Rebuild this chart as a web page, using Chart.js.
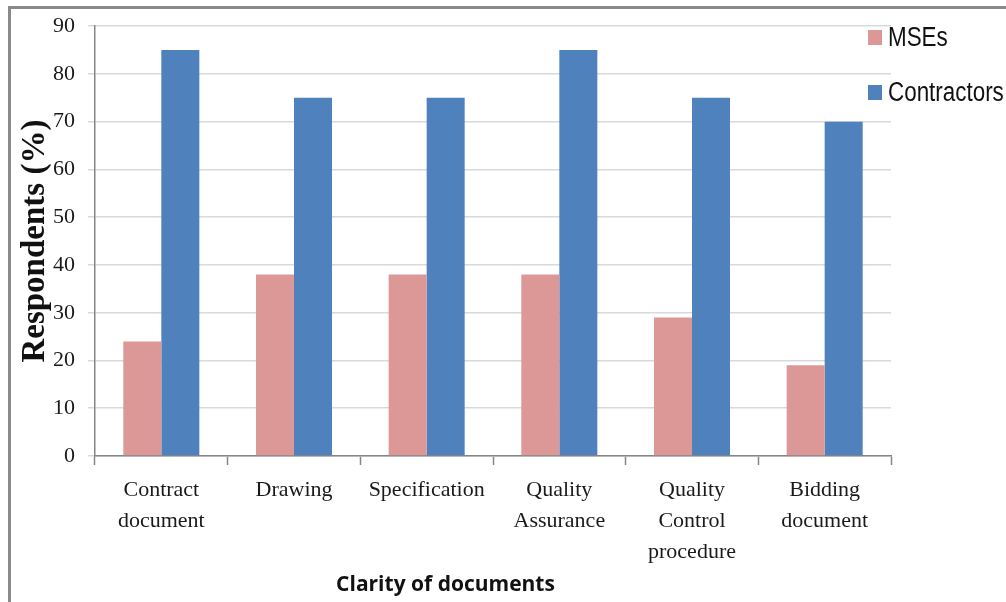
<!DOCTYPE html>
<html lang="en">
<head>
    <meta charset="UTF-8">
    <title>Clarity of documents</title>
    <script src="https://cdn.jsdelivr.net/npm/chart.js"></script>
    <style>
        html, body {
            margin: 0;
            padding: 0;
            background: #fff;
        }
        .wrap {
            position: relative;
            width: 1006px;
            height: 602px;
            overflow: hidden;
        }
        .frame {
            position: absolute;
            left: 8px;
            top: 6px;
            right: -10px;
            bottom: -10px;
            border-top: 3px solid #8a8a8a;
            border-left: 3px solid #8a8a8a;
        }
        canvas {
            position: absolute;
            left: 0;
            top: 0;
        }
        .legend {
            position: absolute;
            left: 868px;
            top: 21px;
            font-family: 'Liberation Sans', sans-serif;
            font-size: 27px;
            color: #111;
        }
        .legend-item {
            display: flex;
            align-items: center;
            height: 33px;
            margin-bottom: 22px;
        }
        .legend-item .box {
            width: 14px;
            height: 15px;
            margin-right: 6px;
        }
        .legend-item .txt {
            display: inline-block;
            transform: scaleX(0.83);
            transform-origin: left center;
        }
    </style>
</head>
<body>
<div class="wrap">
    <div class="frame"></div>
    <canvas id="chart" width="1006" height="602"></canvas>
    <div class="legend" id="legend"></div>
</div>

<script>
    const categories = [
        ['Contract', 'document'],
        ['Drawing'],
        ['Specification'],
        ['Quality', 'Assurance'],
        ['Quality', 'Control', 'procedure'],
        ['Bidding', 'document']
    ];
    const mses = [24, 38, 38, 38, 29, 19];
    const contractors = [85, 75, 75, 85, 75, 70];
    const yTicks = [0, 10, 20, 30, 40, 50, 60, 70, 80, 90];

    const serif = "'Liberation Serif', 'Times New Roman', serif";
    const sans = "'Open Sans', 'Liberation Sans', sans-serif";
    const gridColor = '#d9d9d9';
    const axisColor = '#868686';

    const chart = new Chart(document.getElementById('chart'), {
        type: 'bar',
        data: {
            labels: categories,
            datasets: [
                { label: 'MSEs', data: mses, backgroundColor: '#db9896' },
                { label: 'Contractors', data: contractors, backgroundColor: '#4f81bd' }
            ]
        },
        options: {
            responsive: false,
            animation: false,
            layout: { padding: { top: 25, right: 115, left: 0, bottom: 0 } },
            datasets: {
                bar: { categoryPercentage: 0.573, barPercentage: 1 }
            },
            plugins: {
                legend: { display: false },
                tooltip: { enabled: false },
                // x-axis caption, centred on the whole chart rather than the plot
                title: {
                    display: true,
                    position: 'bottom',
                    text: 'Clarity of documents',
                    color: '#111',
                    padding: { top: 0, bottom: 4 },
                    font: { family: sans, size: 21, weight: 'bold', lineHeight: 1.2 }
                }
            },
            scales: {
                x: {
                    afterFit: s => { s.height = 146 - 29.2; },
                    grid: {
                        drawOnChartArea: false,
                        tickLength: 9,
                        tickColor: axisColor,
                        tickWidth: 1.5
                    },
                    border: { color: axisColor, width: 1.5 },
                    ticks: {
                        padding: 9,
                        color: '#1a1a1a',
                        maxRotation: 0,
                        font: { family: serif, size: 22, lineHeight: 1.43 }
                    }
                },
                y: {
                    min: 0,
                    max: 90,
                    afterFit: s => { s.width = 95; },
                    afterBuildTicks: s => { s.ticks = yTicks.map(v => ({ value: v })); },
                    grid: {
                        color: gridColor,
                        lineWidth: 1.5,
                        tickLength: 7,
                        tickColor: gridColor
                    },
                    border: { color: axisColor, width: 1.5 },
                    ticks: {
                        padding: 13,
                        color: '#1a1a1a',
                        font: { family: serif, size: 22 }
                    },
                    title: {
                        display: true,
                        text: 'Respondents (%)',
                        color: '#111',
                        padding: { top: 16, bottom: 0 },
                        font: { family: serif, size: 33, weight: 'bold' }
                    }
                }
            }
        }
    });

    // legend sits over the right edge of the plot, so it is plain HTML
    const legend = document.getElementById('legend');
    chart.data.datasets.forEach(ds => {
        const item = document.createElement('div');
        item.className = 'legend-item';
        const box = document.createElement('span');
        box.className = 'box';
        box.style.background = ds.backgroundColor;
        const text = document.createElement('span');
        text.className = 'txt';
        text.textContent = ds.label;
        item.appendChild(box);
        item.appendChild(text);
        legend.appendChild(item);
    });
</script>
</body>
</html>
